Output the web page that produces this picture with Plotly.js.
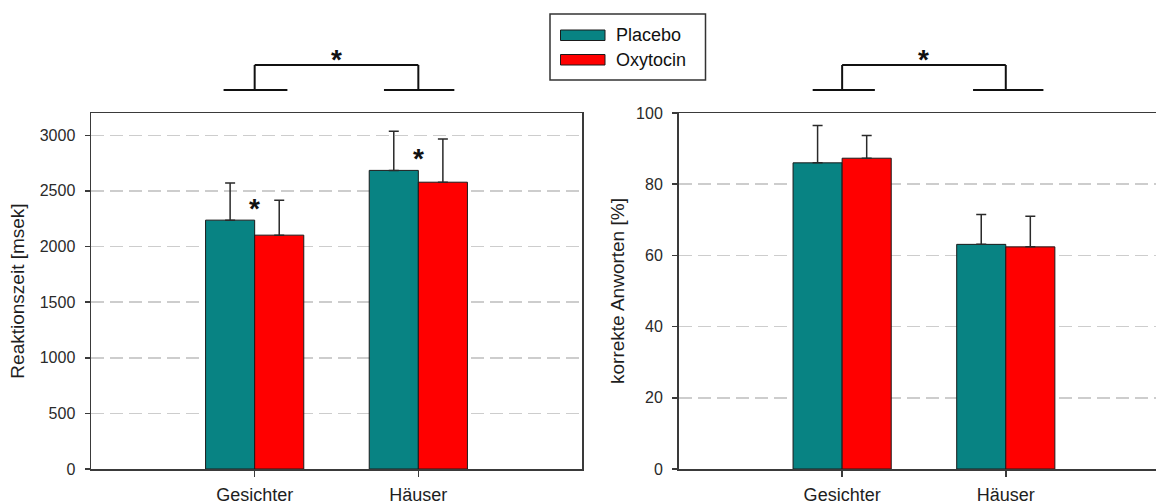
<!DOCTYPE html>
<html>
<head>
<meta charset="utf-8">
<script src="https://cdn.plot.ly/plotly-3.0.1.min.js"></script>
<style>html,body{margin:0;padding:0;background:#fff;}#chart{width:1156px;height:504px;}</style>
</head>
<body>
<div id="chart"></div>
<script>
// ---- data ----
const categories = ['Gesichter', 'Häuser'];
const seriesNames = ['Placebo', 'Oxytocin'];
const rtPlacebo = [2237, 2684];
const rtPlaceboErr = [334, 352];
const rtOxytocin = [2102, 2578];
const rtOxytocinErr = [314, 389];
const accPlacebo = [86.0, 63.1];
const accPlaceboErr = [10.5, 8.4];
const accOxytocin = [87.3, 62.4];
const accOxytocinErr = [6.4, 8.6];
const rtTicks = [0, 500, 1000, 1500, 2000, 2500, 3000];
const accTicks = [0, 20, 40, 60, 80, 100];
const yTitleLeft = 'Reaktionszeit [msek]';
const yTitleRight = 'korrekte Anworten [%]';

// ---- style ----
const FONT = 'Liberation Sans, Arial, Helvetica, sans-serif';
const colors = ['#088383', '#ff0000'];
const axisColor = '#3a3a3a';
const W = 1156, H = 504, MT = 113, MB = 35;
const plotH = H - MT - MB;
const px = v => v / W;                 // horizontal pixel -> paper
const py = v => (H - MB - v) / plotH;  // vertical pixel -> paper

function barTrace(name, y, err, color, xa, ya) {
  return {
    type: 'bar', name: name, x: categories, y: y,
    xaxis: xa, yaxis: ya, showlegend: false,
    marker: {color: color, line: {color: '#1a1a1a', width: 1}},
    error_y: {type: 'data', array: err, arrayminus: err.map(() => 0), symmetric: false,
              visible: true, color: '#2a2a2a', thickness: 1.5, width: 5},
    hoverinfo: 'y'
  };
}

const data = [
  barTrace(seriesNames[0], rtPlacebo, rtPlaceboErr, colors[0], 'x', 'y'),
  barTrace(seriesNames[1], rtOxytocin, rtOxytocinErr, colors[1], 'x', 'y'),
  barTrace(seriesNames[0], accPlacebo, accPlaceboErr, colors[0], 'x2', 'y2'),
  barTrace(seriesNames[1], accOxytocin, accOxytocinErr, colors[1], 'x2', 'y2')
];

const xCommon = {
  type: 'category', showgrid: false, zeroline: false, showline: true, mirror: true,
  linecolor: axisColor, linewidth: 1.5, ticks: 'outside', ticklen: 6, tickwidth: 1.5,
  tickcolor: axisColor, tickfont: {family: FONT, size: 18, color: '#1e1e1e'},
  ticklabelstandoff: 3, automargin: false, fixedrange: true
};
const yCommon = {
  showgrid: true, gridcolor: '#cdcdcd', gridwidth: 1.5, griddash: '13px,6px',
  zeroline: false, showline: true, linecolor: axisColor, linewidth: 1.5,
  ticks: 'outside', ticklen: 5, tickwidth: 1.5, tickcolor: axisColor,
  tickfont: {family: FONT, size: 16, color: '#2a2a2a'}, ticklabelstandoff: 6,
  automargin: true, fixedrange: true
};

// bracket helper: legs at category indices a and b
function bracket(xref, a, b, la, ra, lb, rb) {
  const yb = py(90), yt = py(65);
  const line = {color: '#111', width: 2};
  const base = {type: 'line', xref: xref, yref: 'paper', line: line};
  return [
    Object.assign({}, base, {x0: a - la, x1: a + ra, y0: yb, y1: yb}),
    Object.assign({}, base, {x0: b - lb, x1: b + rb, y0: yb, y1: yb}),
    Object.assign({}, base, {x0: a, x1: a, y0: yb, y1: yt}),
    Object.assign({}, base, {x0: b, x1: b, y0: yb, y1: yt}),
    Object.assign({}, base, {x0: a, x1: b, y0: yt, y1: yt})
  ];
}

const shapes = [].concat(
  bracket('x', 0, 1, 0.19, 0.20, 0.21, 0.22),
  bracket('x2', 0, 1, 0.18, 0.20, 0.20, 0.23),
  [
    {type: 'rect', xref: 'paper', yref: 'paper', x0: px(550), x1: px(705.5), y0: py(14), y1: py(80),
     line: {color: '#333', width: 1.5}, fillcolor: 'rgba(0,0,0,0)'},
    {type: 'rect', xref: 'paper', yref: 'paper', x0: px(560.5), x1: px(605), y0: py(30), y1: py(40.5),
     line: {color: '#1a1a1a', width: 1}, fillcolor: colors[0]},
    {type: 'rect', xref: 'paper', yref: 'paper', x0: px(560.5), x1: px(605), y0: py(54.5), y1: py(65),
     line: {color: '#1a1a1a', width: 1}, fillcolor: colors[1]}
  ]
);

const star = (xref, yref, x, y) => ({
  text: '*', xref: xref, yref: yref, x: x, y: y, showarrow: false,
  xanchor: 'center', yanchor: 'middle', yshift: -2,
  font: {family: FONT, size: 28, color: '#111', weight: 'bold'}
});

const annotations = [
  star('x', 'y', categories[0], 2362),
  star('x', 'y', categories[1], 2811),
  star('x', 'paper', 0.5, py(57)),
  star('x2', 'paper', 0.5, py(57)),
  {text: seriesNames[0], xref: 'paper', yref: 'paper', x: px(614), y: py(35.5), xanchor: 'left',
   yanchor: 'middle', showarrow: false, font: {family: FONT, size: 18, color: '#111'}},
  {text: seriesNames[1], xref: 'paper', yref: 'paper', x: px(614), y: py(59.5), xanchor: 'left',
   yanchor: 'middle', showarrow: false, font: {family: FONT, size: 18, color: '#111'}}
];

const layout = {
  width: W, height: H,
  margin: {l: 0, r: 0, t: MT, b: MB, pad: 0},
  paper_bgcolor: '#fff', plot_bgcolor: '#fff',
  barmode: 'group', bargap: 0.4, bargroupgap: 0,
  showlegend: false,
  font: {family: FONT, color: '#1e1e1e'},
  xaxis: Object.assign({}, xCommon, {domain: [px(91), px(582)], range: [-1, 2], anchor: 'y'}),
  yaxis: Object.assign({}, yCommon, {range: [0, 3200], tickvals: rtTicks, mirror: true, anchor: 'x',
    title: {text: yTitleLeft, font: {family: FONT, size: 19, color: '#1e1e1e'}, standoff: 10}}),
  xaxis2: Object.assign({}, xCommon, {domain: [px(678.5), 1], range: [-1, 1.918], anchor: 'y2'}),
  yaxis2: Object.assign({}, yCommon, {range: [0, 100], tickvals: accTicks, mirror: false, anchor: 'x2',
    title: {text: yTitleRight, font: {family: FONT, size: 19, color: '#1e1e1e'}, standoff: 6}}),
  shapes: shapes,
  annotations: annotations
};

Plotly.newPlot('chart', data, layout, {displayModeBar: false, staticPlot: true});
</script>
</body>
</html>
